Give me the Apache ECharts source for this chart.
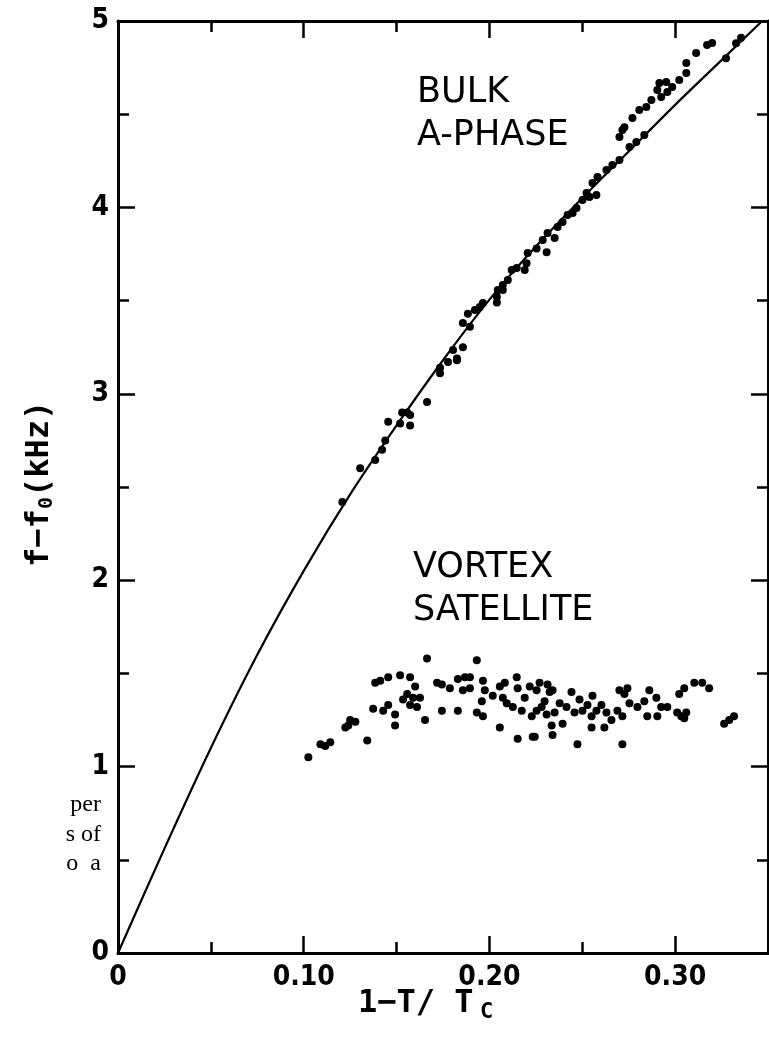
<!DOCTYPE html>
<html>
<head>
<meta charset="utf-8">
<script src="https://cdn.jsdelivr.net/npm/echarts@6/dist/echarts.min.js"></script>
<style>
  html, body { margin: 0; padding: 0; background: #fff; }
  #chart { width: 769px; height: 1047px; }
</style>
</head>
<body>
<div id="chart"></div>
<script>
// Bulk A-phase resonance: measured points [1 - T/Tc, f - f0 (kHz)]
const bulkPoints = [
  [0.1208,2.42],[0.1304,2.60],[0.1385,2.645],[0.1422,2.70],[0.1439,2.75],[0.1455,2.85],
  [0.1519,2.84],[0.153,2.90],[0.1557,2.90],[0.1573,2.886],[0.1573,2.83],[0.1664,2.956],
  [0.1734,3.11],[0.1734,3.14],[0.1777,3.17],[0.1825,3.18],[0.1825,3.19],[0.1857,3.25],
  [0.1804,3.235],[0.1857,3.38],[0.1895,3.36],[0.1884,3.43],[0.1922,3.45],[0.1948,3.466],
  [0.1965,3.487],[0.204,3.52],[0.2045,3.557],[0.204,3.49],[0.2072,3.584],[0.2099,3.61],
  [0.2072,3.557],[0.212,3.664],[0.2147,3.675],[0.219,3.664],[0.22,3.70],[0.2206,3.755],
  [0.2254,3.78],[0.2287,3.825],[0.2308,3.76],[0.2313,3.863],[0.2351,3.836],[0.2367,3.895],
  [0.2394,3.922],[0.2421,3.959],[0.2448,3.97],[0.2469,3.997],[0.2501,4.04],[0.2539,4.056],
  [0.2576,4.066],[0.2523,4.077],[0.2555,4.131],[0.2582,4.163],[0.263,4.20],[0.2662,4.227],
  [0.27,4.254],[0.2716,4.415],[0.27,4.378],[0.2727,4.43],[0.277,4.48],[0.2754,4.324],
  [0.2791,4.351],[0.2834,4.388],[0.2807,4.522],[0.2845,4.539],[0.2872,4.576],[0.2904,4.63],
  [0.2925,4.592],[0.2958,4.619],[0.2984,4.646],[0.2915,4.667],[0.2952,4.673],[0.3022,4.683],
  [0.306,4.721],[0.306,4.775],[0.3113,4.828],[0.3172,4.871],[0.3199,4.882],[0.3274,4.80],
  [0.3328,4.88],[0.3355,4.91]
];

// Vortex satellite: measured points [1 - T/Tc, f - f0 (kHz)]
const satellitePoints = [
  [0.1025,1.05],[0.109,1.12],[0.1116,1.11],[0.1143,1.13],[0.1224,1.21],[0.124,1.22],
  [0.125,1.25],[0.1278,1.24],[0.1342,1.14],[0.1385,1.45],[0.1412,1.46],[0.1455,1.48],
  [0.1519,1.49],[0.1573,1.48],[0.1374,1.31],[0.1428,1.30],[0.1455,1.33],[0.1492,1.28],
  [0.1492,1.22],[0.1535,1.36],[0.1557,1.39],[0.1573,1.33],[0.160,1.43],[0.1589,1.37],
  [0.161,1.32],[0.1626,1.37],[0.1653,1.25],[0.1664,1.58],[0.1718,1.45],[0.1744,1.44],
  [0.1744,1.30],[0.1787,1.42],[0.183,1.30],[0.183,1.47],[0.1868,1.48],[0.1895,1.48],
  [0.1857,1.41],[0.1895,1.42],[0.1932,1.57],[0.1932,1.29],[0.1965,1.27],[0.1965,1.46],
  [0.1975,1.41],[0.1959,1.35],[0.2056,1.21],[0.2018,1.38],[0.2056,1.43],[0.2072,1.37],
  [0.2083,1.45],[0.2093,1.34],[0.2126,1.32],[0.2147,1.48],[0.2152,1.42],[0.2174,1.30],
  [0.219,1.37],[0.2217,1.43],[0.2228,1.27],[0.2152,1.15],[0.2233,1.16],
  [0.2254,1.41],[0.227,1.45],[0.2297,1.35],[0.2313,1.44],[0.2324,1.40],[0.234,1.41],
  [0.2254,1.30],[0.2281,1.32],[0.2308,1.28],[0.2351,1.29],[0.2378,1.34],[0.2244,1.16],
  [0.2335,1.22],[0.2394,1.23],[0.234,1.17],[0.2415,1.32],[0.2442,1.40],[0.2458,1.29],
  [0.2485,1.36],[0.2501,1.30],[0.2528,1.33],[0.2555,1.38],[0.255,1.27],[0.2576,1.30],
  [0.2474,1.12],[0.255,1.21],[0.2619,1.21],[0.2603,1.33],[0.263,1.29],[0.2657,1.25],
  [0.2689,1.30],[0.27,1.41],[0.2727,1.39],[0.2743,1.42],[0.2754,1.34],[0.2716,1.27],
  [0.2716,1.12],[0.2797,1.32],[0.2834,1.35],[0.2861,1.41],[0.285,1.27],[0.2899,1.37],
  [0.2904,1.27],[0.2925,1.32],[0.2958,1.32],[0.3022,1.39],[0.3049,1.42],[0.3103,1.45],
  [0.3146,1.45],[0.3183,1.42],[0.3011,1.29],[0.3033,1.27],[0.3049,1.26],[0.306,1.29],
  [0.3264,1.23],[0.3291,1.25],[0.3317,1.27]
];

// Bulk-phase fit curve, read at these abscissae
const curveX = [0, 0.025, 0.05, 0.075, 0.1, 0.125, 0.15, 0.175, 0.2, 0.225, 0.25, 0.275, 0.3, 0.325, 0.35];
const curveY = [0, 0.56, 1.10, 1.60, 2.05, 2.46, 2.83, 3.18, 3.505, 3.79, 4.05, 4.30, 4.55, 4.79, 5.03];

// Axis ranges and tick steps
const xRange = [0, 0.35];
const yRange = [0, 5];
const xMajor = 0.1, xMinor = 0.05, yMajor = 1;

const xLabelText = v => (v === 0 ? '0' : v.toFixed(2));

const INK = '#000';
const tickFont = '"DejaVu Sans Condensed", "DejaVu Sans", sans-serif';
const monoFont = '"DejaVu Sans Mono", monospace';
const wordFont = '"DejaVu Sans", sans-serif';
const serifFont = '"Liberation Serif", serif';

const chart = echarts.init(document.getElementById('chart'), null, { renderer: 'canvas' });

function xAxisDef(position, step, tickLen, withLabels, withLine) {
  return {
    type: 'value', position, min: xRange[0], max: xRange[1], interval: step,
    axisLine: { show: withLine, onZero: false, lineStyle: { color: INK, width: 3 } },
    axisTick: { show: true, inside: true, length: tickLen, lineStyle: { color: INK, width: 2.5 } },
    axisLabel: withLabels ? {
      show: true, color: INK, fontSize: 28, fontWeight: 'bold', fontFamily: tickFont, margin: 11,
      showMaxLabel: false, formatter: xLabelText
    } : { show: false },
    splitLine: { show: false }
  };
}

function yAxisDef(position, withLabels) {
  return {
    type: 'value', position, min: yRange[0], max: yRange[1], interval: yMajor,
    axisLine: { show: true, onZero: false, lineStyle: { color: INK, width: 3 } },
    axisTick: { show: true, inside: true, length: 17, lineStyle: { color: INK, width: 2.5 } },
    minorTick: { show: true, splitNumber: 2, length: 11, lineStyle: { color: INK, width: 2.5 } },
    axisLabel: withLabels ? {
      show: true, color: INK, fontSize: 28, fontWeight: 'bold', fontFamily: tickFont, margin: 9
    } : { show: false },
    splitLine: { show: false },
    minorSplitLine: { show: false }
  };
}

const option = {
  backgroundColor: '#fff',
  animation: false,
  grid: { left: 118, right: 1, top: 21, bottom: 94, containLabel: false },
  xAxis: [
    xAxisDef('bottom', xMajor, 17, true, true),
    xAxisDef('bottom', xMinor, 11, false, false),
    xAxisDef('top', xMajor, 17, false, true),
    xAxisDef('top', xMinor, 11, false, false)
  ],
  yAxis: [yAxisDef('left', true), yAxisDef('right', false)],
  series: [
    {
      type: 'line', name: 'fit', xAxisIndex: 0, yAxisIndex: 0,
      data: curveX.map((x, i) => [x, curveY[i]]),
      smooth: 0.3, showSymbol: false, clip: true,
      lineStyle: { color: INK, width: 2.2 }, z: 3
    },
    {
      type: 'scatter', name: 'BULK A-PHASE', xAxisIndex: 0, yAxisIndex: 0,
      data: bulkPoints, symbol: 'circle', symbolSize: 8,
      itemStyle: { color: INK, opacity: 1 }, z: 4
    },
    {
      type: 'scatter', name: 'VORTEX SATELLITE', xAxisIndex: 0, yAxisIndex: 0,
      data: satellitePoints, symbol: 'circle', symbolSize: 8,
      itemStyle: { color: INK, opacity: 1 }, z: 4
    }
  ],
  graphic: [
    // series annotations
    { type: 'text', left: 417, top: 75, style: { text: 'BULK', font: '500 35px ' + wordFont, fill: INK } },
    { type: 'text', left: 417, top: 118, style: { text: 'A-PHASE', font: '500 35px ' + wordFont, fill: INK } },
    { type: 'text', left: 413, top: 550, style: { text: 'VORTEX', font: '500 35px ' + wordFont, fill: INK } },
    { type: 'text', left: 413, top: 593, style: { text: 'SATELLITE', font: '500 35px ' + wordFont, fill: INK } },

    // x-axis title: 1−T/ T_C
    { type: 'text', x: 358, y: 1004, style: { text: '1−T/ T', font: 'bold 32px ' + monoFont, fill: INK, align: 'left', verticalAlign: 'middle' } },
    { type: 'text', x: 480, y: 1012, style: { text: 'C', font: 'bold 22px ' + monoFont, fill: INK, align: 'left', verticalAlign: 'middle' } },

    // y-axis title: f−f_0(kHz), reading upward
    { type: 'text', x: 40, y: 567, rotation: Math.PI / 2, style: { text: 'f−f', font: 'bold 32px ' + monoFont, fill: INK, align: 'left', verticalAlign: 'middle' } },
    { type: 'text', x: 47, y: 509, rotation: Math.PI / 2, style: { text: '0', font: 'bold 20px ' + monoFont, fill: INK, align: 'left', verticalAlign: 'middle' } },
    { type: 'text', x: 40, y: 497, rotation: Math.PI / 2, style: { text: '(kHz)', font: 'bold 32px ' + monoFont, fill: INK, align: 'left', verticalAlign: 'middle' } },

    // neighbouring caption text at the left margin
    { type: 'text', x: 101, y: 805, style: { text: 'per', font: '24px ' + serifFont, fill: INK, align: 'right', verticalAlign: 'middle' } },
    { type: 'text', x: 101, y: 835, style: { text: 's of', font: '24px ' + serifFont, fill: INK, align: 'right', verticalAlign: 'middle' } },
    { type: 'text', x: 101, y: 864, style: { text: 'o  a', font: '24px ' + serifFont, fill: INK, align: 'right', verticalAlign: 'middle' } }
  ]
};

chart.setOption(option);
</script>
</body>
</html>
